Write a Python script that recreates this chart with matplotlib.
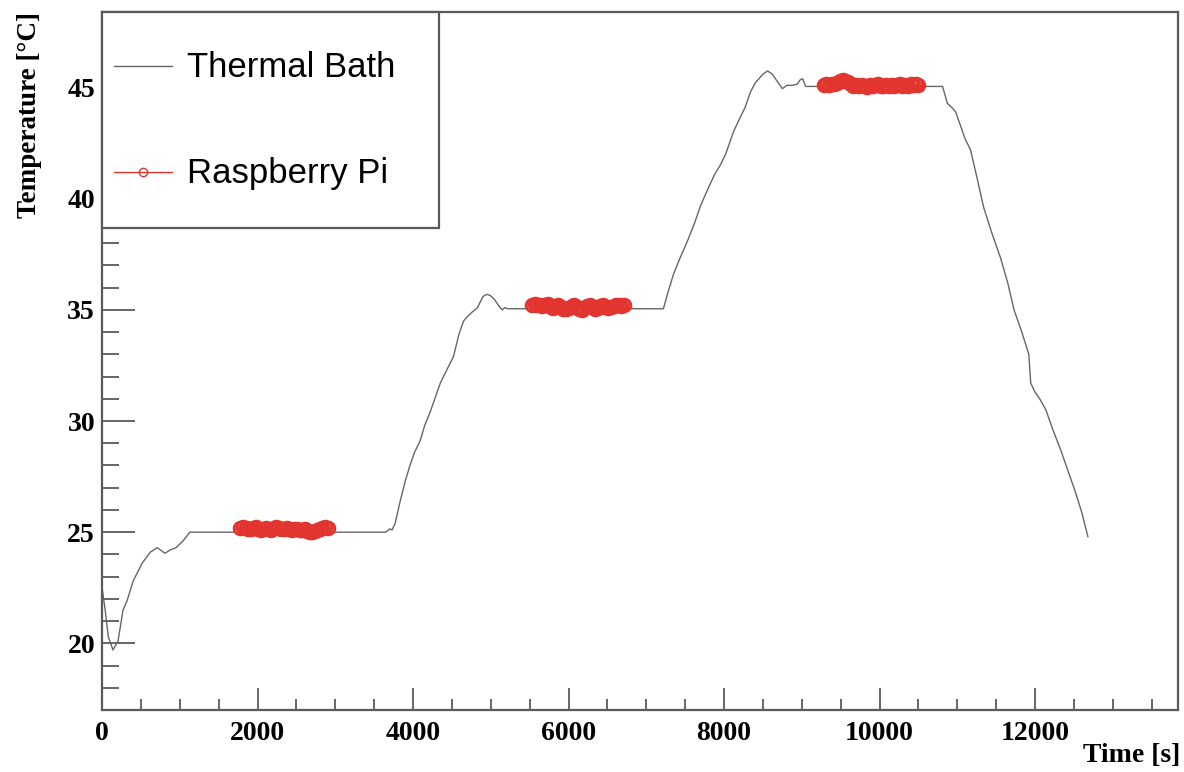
import matplotlib
matplotlib.use('Agg')
import matplotlib.pyplot as plt
from matplotlib.ticker import MultipleLocator

# thermal bath reading (time [s], temperature [C])
bath_t = [0, 40, 80, 140, 205, 270, 320, 400, 515, 620, 710, 810, 875, 950, 1040, 1130,
          3650, 3700, 3730, 3770, 3835, 3900, 3960, 4020, 4090, 4150, 4220, 4290, 4350,
          4420, 4520, 4590, 4650, 4700, 4760, 4830, 4870, 4900, 4950, 4990, 5040, 5080,
          5120, 5150, 5180, 5220, 7220, 7280, 7350, 7430, 7530, 7620, 7700, 7800, 7880,
          7950, 8020, 8080, 8120, 8200, 8270, 8340, 8400, 8450, 8500, 8560, 8620, 8680,
          8750, 8810, 8880, 8940, 8980, 9010, 9050, 10810, 10840, 10870, 10930, 10980,
          11050, 11100, 11170, 11250, 11340, 11450, 11560, 11650, 11730, 11830, 11920,
          11935, 11945, 12000, 12060, 12140, 12230, 12330, 12420, 12520, 12600, 12680]
bath_temp = [22.5, 21.5, 20.3, 19.7, 20.1, 21.5, 21.9, 22.8, 23.6, 24.1, 24.3, 24.05, 24.2,
             24.3, 24.6, 25.0, 25.0, 25.15, 25.1, 25.4, 26.4, 27.3, 28.0, 28.6, 29.1, 29.8,
             30.4, 31.1, 31.7, 32.2, 32.9, 33.9, 34.5, 34.7, 34.9, 35.1, 35.4, 35.6, 35.7,
             35.65, 35.5, 35.3, 35.1, 35.0, 35.1, 35.05, 35.05, 35.8, 36.6, 37.3, 38.1,
             38.9, 39.7, 40.5, 41.1, 41.5, 42.0, 42.6, 43.0, 43.6, 44.1, 44.8, 45.2, 45.4,
             45.6, 45.75, 45.6, 45.3, 44.95, 45.1, 45.1, 45.15, 45.35, 45.4, 45.05, 45.05,
             44.7, 44.3, 44.1, 43.9, 43.2, 42.7, 42.2, 41.0, 39.6, 38.4, 37.3, 36.2, 35.0,
             34.0, 33.0, 32.2, 31.7, 31.3, 31.0, 30.5, 29.6, 28.7, 27.8, 26.8, 25.9, 24.8]

# raspberry pi readings on the three plateaus
pi_t1 = [1780, 1810, 1845, 1880, 1910, 1945, 1975, 2010, 2045, 2075, 2110, 2140, 2175, 2210,
         2240, 2275, 2305, 2340, 2375, 2405, 2440, 2470, 2505, 2540, 2570, 2605, 2635, 2670,
         2705, 2735, 2770, 2800, 2835, 2870, 2900]
pi_temp1 = [25.18, 25.22, 25.20, 25.15, 25.12, 25.17, 25.21, 25.14, 25.10, 25.16, 25.19, 25.13,
            25.11, 25.18, 25.23, 25.17, 25.12, 25.15, 25.20, 25.14, 25.09, 25.13, 25.16, 25.11,
            25.08, 25.12, 25.06, 25.02, 25.00, 25.05, 25.10, 25.14, 25.18, 25.22, 25.19]
pi_t2 = [5530, 5565, 5600, 5635, 5665, 5700, 5735, 5770, 5800, 5835, 5870, 5905, 5935, 5970,
         6005, 6040, 6070, 6105, 6140, 6175, 6205, 6240, 6275, 6310, 6340, 6375, 6410, 6445,
         6475, 6510, 6545, 6580, 6610, 6645, 6680, 6715]
pi_temp2 = [35.22, 35.26, 35.20, 35.24, 35.18, 35.21, 35.25, 35.12, 35.08, 35.19, 35.23, 35.15,
            35.05, 35.02, 35.10, 35.18, 35.22, 35.14, 35.06, 35.00, 35.09, 35.16, 35.21, 35.12,
            35.04, 35.08, 35.17, 35.22, 35.15, 35.07, 35.11, 35.19, 35.24, 35.20, 35.16, 35.22]
pi_t3 = [9280, 9315, 9350, 9385, 9420, 9455, 9490, 9525, 9560, 9595, 9630, 9665, 9700, 9735,
         9770, 9805, 9840, 9875, 9910, 9945, 9980, 10015, 10050, 10085, 10120, 10155, 10190,
         10225, 10260, 10295, 10330, 10365, 10400, 10435, 10470, 10500]
pi_temp3 = [45.12, 45.16, 45.10, 45.14, 45.18, 45.22, 45.28, 45.32, 45.30, 45.24, 45.15, 45.08,
            45.11, 45.06, 45.13, 45.09, 45.04, 45.12, 45.07, 45.10, 45.14, 45.08, 45.05, 45.11,
            45.09, 45.13, 45.06, 45.10, 45.15, 45.08, 45.12, 45.09, 45.14, 45.11, 45.16, 45.13]

grey = '#5a5a5a'
red = '#e2352f'
serif_bold = {'family': 'Liberation Serif', 'weight': 'bold'}

fig = plt.figure(figsize=(11.84, 7.72), dpi=100)
ax = fig.add_axes([0.0862, 0.0803, 0.9088, 0.9042])

ax.plot(bath_t, bath_temp, color='#666666', lw=1.0, label='Thermal Bath')
pi_style = dict(color=red, lw=1.0, marker='o', ms=9, mfc='none', mec=red, mew=2.2)
ax.plot(pi_t1, pi_temp1, label='Raspberry Pi', **pi_style)
ax.plot(pi_t2, pi_temp2, **pi_style)
ax.plot(pi_t3, pi_temp3, **pi_style)

ax.set_xlim(0, 13840)
ax.set_ylim(17.0, 48.4)
ax.xaxis.set_major_locator(MultipleLocator(2000))
ax.xaxis.set_minor_locator(MultipleLocator(500))
ax.yaxis.set_major_locator(MultipleLocator(5))
ax.yaxis.set_minor_locator(MultipleLocator(1))
ax.tick_params(axis='y', which='major', direction='in', length=24, width=1.3, color=grey, pad=5)
ax.tick_params(axis='y', which='minor', direction='in', length=12, width=1.3, color=grey)
ax.tick_params(axis='x', which='major', direction='in', length=16, width=1.3, color=grey, pad=8)
ax.tick_params(axis='x', which='minor', direction='in', length=8, width=1.3, color=grey)
for lab in ax.get_xticklabels() + ax.get_yticklabels():
    lab.set_fontfamily('Liberation Serif')
    lab.set_fontweight('bold')
    lab.set_fontsize(20)
for sp in ax.spines.values():
    sp.set_color(grey)
    sp.set_linewidth(1.6)

ax.set_ylabel('Temperature [°C]', fontdict=serif_bold, fontsize=19.5, loc='top', labelpad=18)
fig.text(0.997, 1 - 755 / 772, 'Time [s]', ha='right', va='center', fontdict=serif_bold, fontsize=20)

leg = ax.legend(loc='upper left', bbox_to_anchor=(0.0, 0.0, 0.3135, 1.0), mode='expand',
                borderaxespad=0, fancybox=False, framealpha=1,
                edgecolor=grey, numpoints=1, handlelength=1.66, handletextpad=0.45,
                handleheight=3.44, labelspacing=0.57, borderpad=0.35,
                prop={'family': 'Liberation Sans', 'size': 25})
leg.get_frame().set_linewidth(1.6)
leg.legend_handles[1].set_markersize(6)
leg.legend_handles[1].set_markeredgewidth(1.0)
# line the legend handles up with their labels
for h in leg.legend_handles:
    h.set_ydata([y - 11 for y in h.get_ydata()])

fig.savefig('out.png', dpi=100)
